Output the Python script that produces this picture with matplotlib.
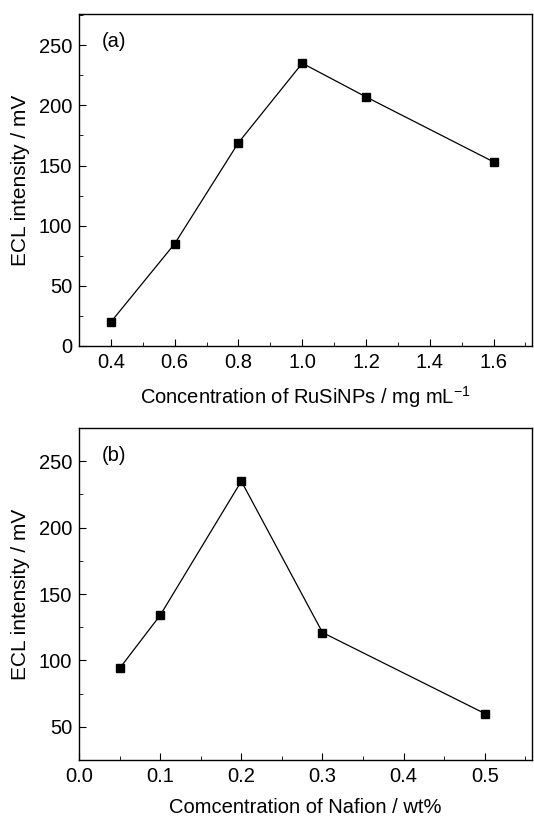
import matplotlib
matplotlib.use("Agg")
import matplotlib.pyplot as plt
from matplotlib.ticker import MultipleLocator, AutoMinorLocator

plt.rcParams['font.family'] = ['Liberation Sans', 'DejaVu Sans']
plt.rcParams['mathtext.default'] = 'regular'

# panel (a): RuSiNPs concentration
rusi_conc = [0.4, 0.6, 0.8, 1.0, 1.2, 1.6]
rusi_ecl = [20, 85, 169, 235, 207, 153]

# panel (b): Nafion concentration
nafion_conc = [0.05, 0.1, 0.2, 0.3, 0.5]
nafion_ecl = [94, 134, 235, 121, 60]

fig = plt.figure(figsize=(5.34, 8.17), dpi=100)
ax1 = fig.add_axes([0.148, 0.5765, 0.848, 0.4065])
ax2 = fig.add_axes([0.148, 0.0698, 0.848, 0.4062])


def style(ax):
    for s in ax.spines.values():
        s.set_linewidth(1.0)
    ax.tick_params(which='both', direction='in', top=False, right=False, labelsize=14.5)
    ax.tick_params(which='major', length=5, pad=5)
    ax.tick_params(which='minor', length=3)
    ax.xaxis.set_minor_locator(AutoMinorLocator(2))
    ax.yaxis.set_minor_locator(AutoMinorLocator(2))


ax1.plot(rusi_conc, rusi_ecl, color='black', lw=0.9, marker='s', ms=6)
ax1.set_xlim(0.3, 1.72)
ax1.set_ylim(0, 276)
ax1.xaxis.set_major_locator(MultipleLocator(0.2))
ax1.yaxis.set_major_locator(MultipleLocator(50))
ax1.xaxis.set_major_formatter(lambda v, p: f"{v:.1f}")
style(ax1)
ax1.set_xlabel('Concentration of RuSiNPs / mg mL$^{-1}$', fontsize=14.5, labelpad=9)
ax1.set_ylabel('ECL intensity / mV', fontsize=15, labelpad=6)
ax1.text(0.05, 0.945, '(a)', transform=ax1.transAxes, fontsize=14.5, va='top')

ax2.plot(nafion_conc, nafion_ecl, color='black', lw=0.9, marker='s', ms=6)
ax2.set_xlim(0.0, 0.558)
ax2.set_ylim(25, 275)
ax2.xaxis.set_major_locator(MultipleLocator(0.1))
ax2.yaxis.set_major_locator(MultipleLocator(50))
ax2.xaxis.set_major_formatter(lambda v, p: f"{v:.1f}")
style(ax2)
ax2.set_xlabel('Comcentration of Nafion / wt%', fontsize=14.5, labelpad=9)
ax2.set_ylabel('ECL intensity / mV', fontsize=15, labelpad=6)
ax2.text(0.05, 0.945, '(b)', transform=ax2.transAxes, fontsize=14.5, va='top')

fig.savefig('out.png', dpi=100)
